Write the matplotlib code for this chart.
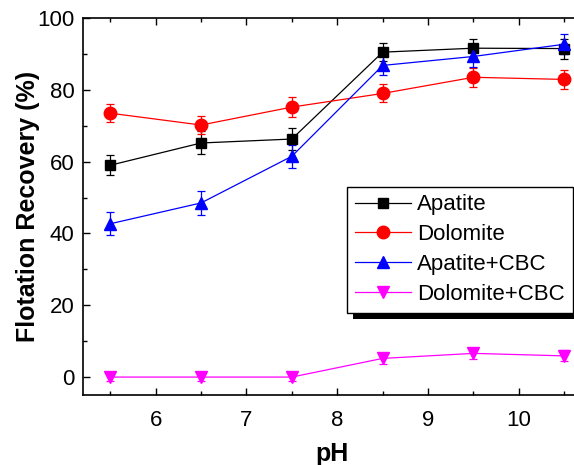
import matplotlib
matplotlib.use('Agg')
import matplotlib.pyplot as plt
from matplotlib.lines import Line2D
from matplotlib.patches import Rectangle
from matplotlib.ticker import MultipleLocator

# --- Data ---
ph = [5.5, 6.5, 7.5, 8.5, 9.5, 10.5]
apatite = [59.0, 65.2, 66.3, 90.5, 91.6, 91.5]
apatite_err = [2.8, 3.2, 3.0, 2.5, 2.5, 2.8]
dolomite = [73.5, 70.2, 75.2, 79.0, 83.5, 82.9]
dolomite_err = [2.5, 2.5, 2.7, 2.5, 2.7, 2.7]
apatite_cbc = [42.7, 48.5, 61.5, 86.8, 89.3, 92.7]
apatite_cbc_err = [3.2, 3.4, 3.2, 2.8, 2.8, 2.8]
dolomite_cbc = [0.0, 0.0, 0.0, 5.2, 6.6, 5.9]
dolomite_cbc_err = [1.2, 1.2, 1.2, 1.5, 1.5, 1.5]

plt.rcParams['font.family'] = ['Liberation Sans', 'DejaVu Sans']

fig = plt.figure(figsize=(5.74, 4.65), dpi=100)
# right spine sits just past the picture's edge, as in the reference
ax = fig.add_axes([0.1446, 0.1505, 0.867, 0.8107])

series = [
    (apatite, apatite_err, 'Apatite', 'black', 's', 7.5),
    (dolomite, dolomite_err, 'Dolomite', 'red', 'o', 9),
    (apatite_cbc, apatite_cbc_err, 'Apatite+CBC', 'blue', '^', 9),
    (dolomite_cbc, dolomite_cbc_err, 'Dolomite+CBC', 'magenta', 'v', 9),
]
handles = []
for vals, err, label, color, marker, ms in series:
    ax.errorbar(ph, vals, yerr=err, color=color, marker=marker, markersize=ms,
                linewidth=0.9, elinewidth=0.9, capsize=3, capthick=0.9)
    handles.append(Line2D([], [], color=color, marker=marker, markersize=ms,
                          linewidth=0.9, label=label))

ax.set_xlim(5.2, 10.68)
ax.set_ylim(-5, 100)
ax.xaxis.set_major_locator(MultipleLocator(1))
ax.xaxis.set_minor_locator(MultipleLocator(0.5))
ax.yaxis.set_major_locator(MultipleLocator(20))
ax.yaxis.set_minor_locator(MultipleLocator(10))
ax.tick_params(which='both', direction='in', top=True, right=True, labelsize=16)
ax.tick_params(which='major', length=5, width=1)
ax.tick_params(which='minor', length=3, width=1)
ax.tick_params(axis='x', pad=11)
ax.tick_params(axis='y', pad=6)
for sp in ax.spines.values():
    sp.set_linewidth(1.2)

ax.set_xlabel('pH', fontsize=18, fontweight='bold', labelpad=8)
ax.set_ylabel('Flotation Recovery (%)', fontsize=18, fontweight='bold', labelpad=-2)

leg = ax.legend(handles=handles, loc='upper left', bbox_to_anchor=(0.531, 0.553),
                fontsize=16, frameon=True, fancybox=False, edgecolor='black',
                framealpha=1, handlelength=2.5, borderpad=0.35, labelspacing=0.4,
                handletextpad=0.3, borderaxespad=0)
leg.get_frame().set_linewidth(1)
leg.set_zorder(10)

# black drop shadow behind the legend box
fig.canvas.draw()
bb = leg.get_window_extent().transformed(fig.transFigure.inverted())
dx, dy = 6 / 574, 6 / 465
shadow = Rectangle((bb.x0 + dx, bb.y0 - dy), bb.width, bb.height,
                   transform=fig.transFigure, facecolor='black', edgecolor='none',
                   zorder=9, clip_on=False)
ax.add_artist(shadow)

fig.savefig('out.png', dpi=100)
